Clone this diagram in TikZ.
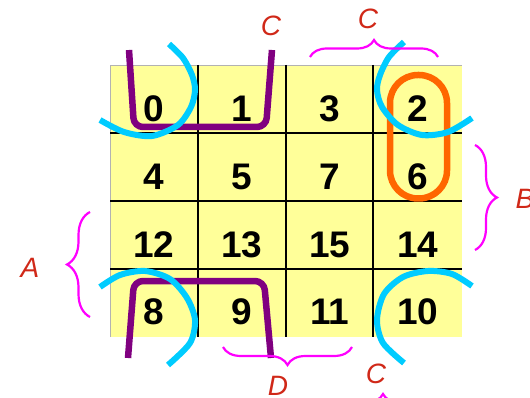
\documentclass[tikz,border=0pt]{standalone}
\usepackage{fontspec}
\setmainfont{Liberation Sans}
\usetikzlibrary{decorations.pathreplacing}
\definecolor{kyellow}{HTML}{FFFF99}
\definecolor{kcyan}{HTML}{00CCFF}
\definecolor{kpurple}{HTML}{800080}
\definecolor{korange}{HTML}{FF6600}
\definecolor{kmagenta}{HTML}{FF00FF}
\definecolor{kred}{HTML}{D02818}
\tikzset{
  num/.style={anchor=base, inner sep=0pt, font=\fontsize{37}{37}\selectfont\bfseries},
  lab/.style={anchor=base, inner sep=0pt, text=kred, font=\fontsize{28}{28}\selectfont\itshape},
  gridline/.style={black, line width=1.6pt},
  cyanarc/.style={kcyan, line width=6pt},
  purpleloop/.style={kpurple, line width=6.5pt, rounded corners=9pt},
  orangeloop/.style={korange, line width=6.5pt, rounded corners=28pt},
  bracket/.style={kmagenta, line width=2.2pt, decorate, decoration={brace, amplitude=#1}},
}
\begin{document}
\begin{tikzpicture}[x=1pt,y=1pt]
\useasboundingbox (0,0) rectangle (530,-398);
\clip (0,0) rectangle (530,-398);
% map background
\fill[kyellow] (110,-65) rectangle (462,-337);
\draw[gray!60, line width=0.8pt] (110,-337) -- (110,-65) -- (462,-65);
\foreach \x in {198,286,373} \draw[gridline] (\x,-65) -- (\x,-337);
\foreach \y in {133,201,269} \draw[gridline] (110,-\y) -- (462,-\y);
% cell numbers
\node[num] (n0)  at (154,-122) {0};
\node[num] (n1)  at (242,-122) {1};
\node[num] (n3)  at (330,-122) {3};
\node[num] (n2)  at (418,-122) {2};
\node[num] (n4)  at (154,-190) {4};
\node[num] (n5)  at (242,-190) {5};
\node[num] (n7)  at (330,-190) {7};
\node[num] (n6)  at (418,-190) {6};
\node[num] (n12) at (154,-257) {12};
\node[num] (n13) at (242,-257) {13};
\node[num] (n15) at (330,-257) {15};
\node[num] (n14) at (418,-257) {14};
\node[num] (n8)  at (154,-324) {8};
\node[num] (n9)  at (242,-324) {9};
\node[num] (n11) at (330,-324) {11};
\node[num] (n10) at (418,-324) {10};
% purple groups
\draw[purpleloop] (129,-50) -- (134,-127) -- (266,-127) -- (272,-50);
\draw[purpleloop] (128,-358) -- (134,-281) -- (264,-281) -- (271,-358);
% orange group
\draw[orangeloop] (390,-75) rectangle (447,-198.5);
% cyan corner arcs
\draw[cyanarc] plot[smooth] coordinates {(169,-44) (183,-58) (192,-75) (195,-90) (191,-107) (178,-125) (152,-136) (124,-132) (100,-120)};
\draw[cyanarc] plot[smooth] coordinates {(404,-42) (389,-57) (380,-75) (377,-90) (382,-107) (398,-125) (422,-135) (448,-132) (472,-118)};
\draw[cyanarc] plot[smooth] coordinates {(100,-287) (120,-275) (145,-271) (170,-279) (187,-298) (195,-320) (190,-343) (168,-365)};
\draw[cyanarc] plot[smooth] coordinates {(472,-286) (452,-274) (428,-271) (403,-277) (384,-294) (377,-320) (383,-343) (404,-363)};
% braces
\coordinate (cL) at (310,-57); \coordinate (cR) at (438,-57);
\draw[bracket=17pt] (cL) -- (cR);
\coordinate (aB) at (90,-317); \coordinate (aT) at (90,-212);
\draw[bracket=23pt] (aB) -- (aT);
\coordinate (bT) at (475,-145); \coordinate (bB) at (475,-250);
\draw[bracket=22pt] (bT) -- (bB);
\coordinate (dR) at (352,-347); \coordinate (dL) at (223,-347);
\draw[bracket=18pt] (dR) -- (dL);
\coordinate (eL) at (318,-411); \coordinate (eR) at (448,-411);
\draw[bracket=17pt] (eL) -- (eR);
% labels
\node[lab] (lc1) at (271,-36) {C};
\node[lab] (lc2) at (368,-29) {C};
\node[lab] (lc3) at (376,-383) {C};
\node[lab] (la) at (30,-277) {A};
\node[lab] (lb) at (525,-208) {B};
\node[lab] (ld) at (278,-395.5) {D};
\end{tikzpicture}
\end{document}
